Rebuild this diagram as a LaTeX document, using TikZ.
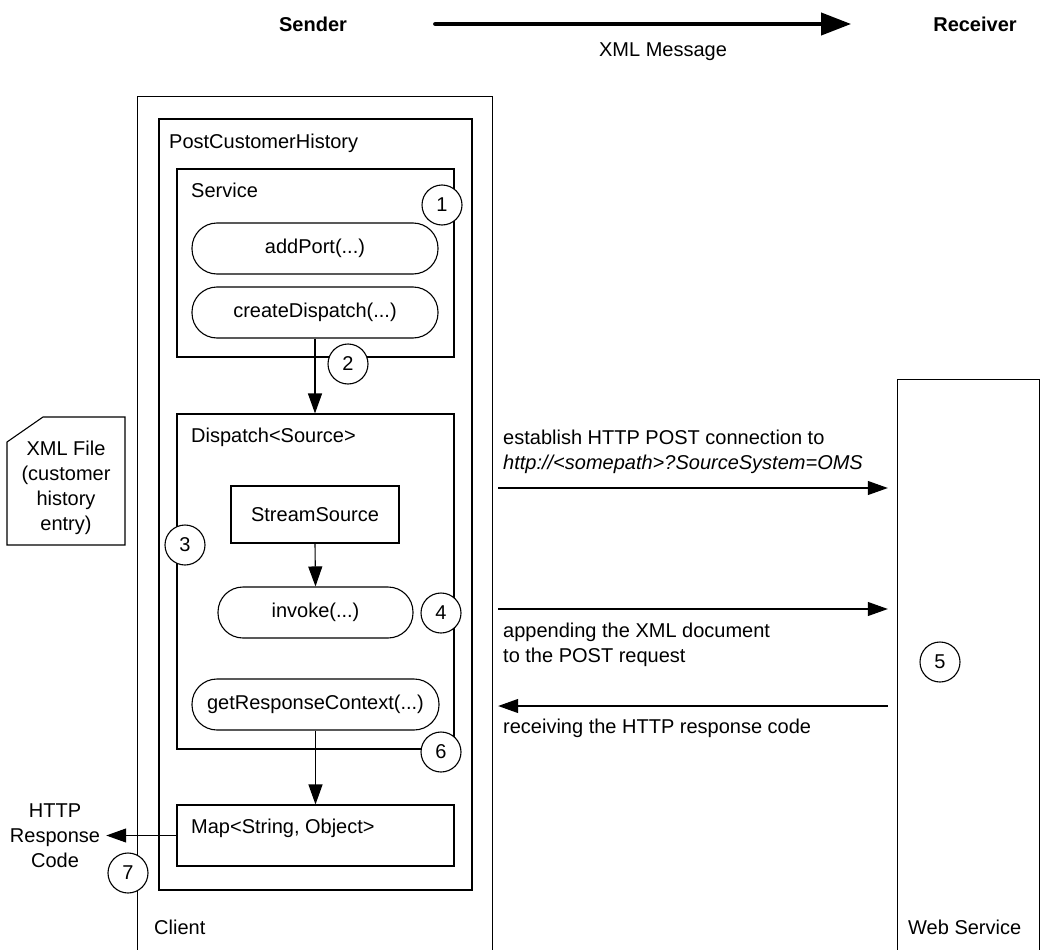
\documentclass[tikz,border=0pt]{standalone}
\usepackage{fontspec}
\setmainfont{Liberation Sans}
\usetikzlibrary{arrows.meta,calc}
\begin{document}
\begin{tikzpicture}[x=1pt,y=-1pt,
  every node/.style={font=\fontsize{20}{25}\selectfont, inner sep=0pt},
  box/.style={draw, line width=1.1pt, rectangle},
  pill/.style={draw, line width=1.1pt, rectangle, rounded corners=25pt},
  num/.style={draw, circle, fill=white, minimum size=40pt, line width=1.1pt},
  conn/.style={line width=1.1pt, -{Triangle[length=20pt,width=14pt]}},
  lbl/.style={anchor=west},
]
\useasboundingbox (0,0) rectangle (1042,950);

% header
\node[font=\fontsize{20}{25}\selectfont\bfseries] (sender) at (313,24) {Sender};
\node[font=\fontsize{20}{25}\selectfont\bfseries] (receiver) at (975,24) {Receiver};
\draw[line width=4pt, line cap=round, -{Triangle[length=30pt,width=22pt]}]
  ([xshift=88pt]sender.east) -- ([xshift=-82pt]receiver.west);
\node (xmlmsg) at (663,52) {XML Message};

% outer frames (open at bottom)
\node[minimum width=354pt, minimum height=853pt] (client) at (315,523.5) {};
\draw[line width=1.1pt] (client.south west) |- (client.north east) -- (client.south east);
\node[lbl] (clientL) at (154,927) {Client};

\node[minimum width=141pt, minimum height=570pt] (ws) at (968.5,665) {};
\draw[line width=1.1pt] (ws.south west) |- (ws.north east) -- (ws.south east);
\node[lbl] (wsL) at (908,927) {Web Service};

% PostCustomerHistory
\node[box, minimum width=313pt, minimum height=771pt] (pch) at (315.5,504.5) {};
\node[lbl] (pchL) at (169,143) {PostCustomerHistory};

% Service
\node[box, minimum width=277pt, minimum height=188pt] (service) at (315.5,263) {};
\node[lbl] (serviceL) at (191,190) {Service};
\node[pill, minimum width=246pt, minimum height=51pt] (addport) at (315,248.5) {addPort(...)};
\node[pill, minimum width=246pt, minimum height=51pt] (createdispatch) at (315,312.5) {createDispatch(...)};

% Dispatch
\node[box, minimum width=277pt, minimum height=335pt] (dispatch) at (315.5,581.5) {};
\node[lbl] (dispatchL) at (191,437) {Dispatch<Source>};
\node[box, minimum width=168pt, minimum height=57pt] (stream) at (315,514.5) {StreamSource};
\node[pill, minimum width=195pt, minimum height=51pt] (invoke) at (315.5,612.5) {invoke(...)};
\node[pill, minimum width=247pt, minimum height=51pt] (getresp) at (315.5,704.5) {getResponseContext(...)};

% Map
\node[box, minimum width=277pt, minimum height=61pt] (map) at (315.5,835.5) {};
\node[lbl] (mapL) at (191,828) {Map<String, Object>};

% XML file note
\draw[line width=1.1pt] (7,545) -- (7,442) -- (43,417) -- (125,417) -- (125,545) -- cycle;
\node[align=center] (xmlfile) at (66,488) {XML File\\(customer\\history\\entry)};

% HTTP response code
\node[align=center] (http) at (55,836) {HTTP\\Response\\Code};

% internal connectors
\draw[conn] (createdispatch.south) -- (createdispatch.south |- dispatch.north);
\draw[conn] (stream.south) -- (invoke.north);
\draw[conn] (getresp.south) -- (getresp.south |- map.north);
\draw[conn] (map.west) -- ([xshift=6pt]http.east |- map.west);

% messages
\draw[conn] ($(client.east |- 0,488)+(6,0)$) -- ($(ws.west |- 0,488)+(-10,0)$);
\node[lbl, align=left] (msg1) at (503,452) {establish HTTP POST connection to\\\textit{http://<somepath>?SourceSystem=OMS}};
\draw[conn] ($(client.east |- 0,609)+(6,0)$) -- ($(ws.west |- 0,609)+(-10,0)$);
\node[lbl, align=left] (msg2) at (503,644.5) {appending the XML document\\to the POST request};
\draw[conn] ($(ws.west |- 0,706)+(-10,0)$) -- ($(client.east |- 0,706)+(6,0)$);
\node[lbl] (msg3) at (503,728) {receiving the HTTP response code};

% numbered markers
\node[num] (n1) at (442,205) {1};
\node[num] (n2) at (348,364) {2};
\node[num] (n3) at (185,545) {3};
\node[num] (n4) at (441,613) {4};
\node[num] (n5) at (940,662) {5};
\node[num] (n6) at (441,752) {6};
\node[num] (n7) at (128,873) {7};
\end{tikzpicture}
\end{document}
